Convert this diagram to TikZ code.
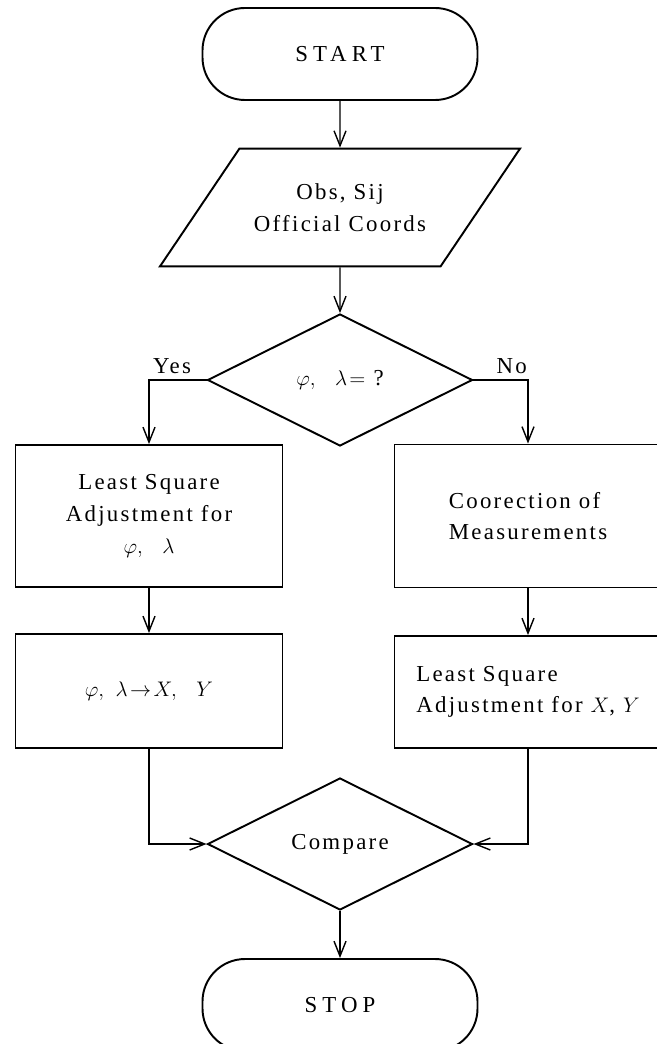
\documentclass[tikz,border=0pt]{standalone}
\usepackage{fontspec}
\setmainfont{Liberation Serif}[LetterSpace=10]
\usetikzlibrary{arrows.meta, positioning, shapes.geometric}

\begin{document}
\begin{tikzpicture}[
    >={Straight Barb[length=3mm, width=2.4mm]},
    node distance=2cm,
    on grid,
    font=\fontsize{13}{18}\selectfont,
    terminal/.style={draw, line width=1.1pt, rounded corners=0.85cm,
        minimum width=5.5cm, minimum height=1.84cm},
    io/.style={draw, line width=1.1pt, trapezium, trapezium left angle=56,
        trapezium right angle=124, trapezium stretches body, inner ysep=0.7cm,
        minimum width=7.2cm, minimum height=2.3cm, align=center},
    decision/.style={draw, line width=1.1pt, diamond, aspect=2, inner sep=0pt,
        minimum width=5.3cm, minimum height=2.64cm},
    process/.style={draw, line width=1.1pt, minimum width=5.34cm},
    flow/.style={->, line width=0.8pt},
]

    \useasboundingbox (0,0) rectangle (13.12,-20.88);

    \node[terminal]                                    (start)   at (6.8,-1.08)
        {\addfontfeature{LetterSpace=22}START};
    \node[io,       below =3.07cm of start]            (input)   {Obs, Sij\\Official Coords};
    \node[decision, below =3.45cm of input]            (cond)    {$\varphi,\ \ \lambda\!=$ ?};
    \node[process,  below left =2.72cm and 3.82cm of cond,
          minimum height=2.84cm, align=center]          (lsq)     {Least Square\\Adjustment for\\$\varphi,\ \ \lambda$};
    \node[process,  below right=2.72cm and 3.76cm of cond,
          minimum height=2.86cm, align=left]            (corr)    {Coorection of\\Measurements};
    \node[process,  below =3.5cm of lsq,
          minimum height=2.28cm]                        (conv)    {$\varphi,\ \lambda\!\rightarrow\! X,\ \ Y$};
    \node[process,  below =3.52cm of corr,
          minimum height=2.24cm, align=left]            (lsqxy)   {Least Square\\Adjustment for $X$, $Y$};
    \node[decision, below =9.28cm of cond]             (compare) {Compare};
    \node[terminal, below =3.22cm of compare]          (stop)
        {\addfontfeature{LetterSpace=22}STOP};

    \draw[flow] (start)   -- (input);
    \draw[flow] (input)   -- (cond);
    \draw[flow] (cond.west) -| node[above, pos=0.3] {Yes} (lsq.north);
    \draw[flow] (cond.east) -| node[above, pos=0.35] {No} (corr.north);
    \draw[flow] (lsq)     -- (conv);
    \draw[flow] (corr)    -- (lsqxy);
    \draw[flow] (conv.south)  |- (compare.west);
    \draw[flow] (lsqxy.south) |- (compare.east);
    \draw[flow] (compare) -- (stop);
\end{tikzpicture}
\end{document}
